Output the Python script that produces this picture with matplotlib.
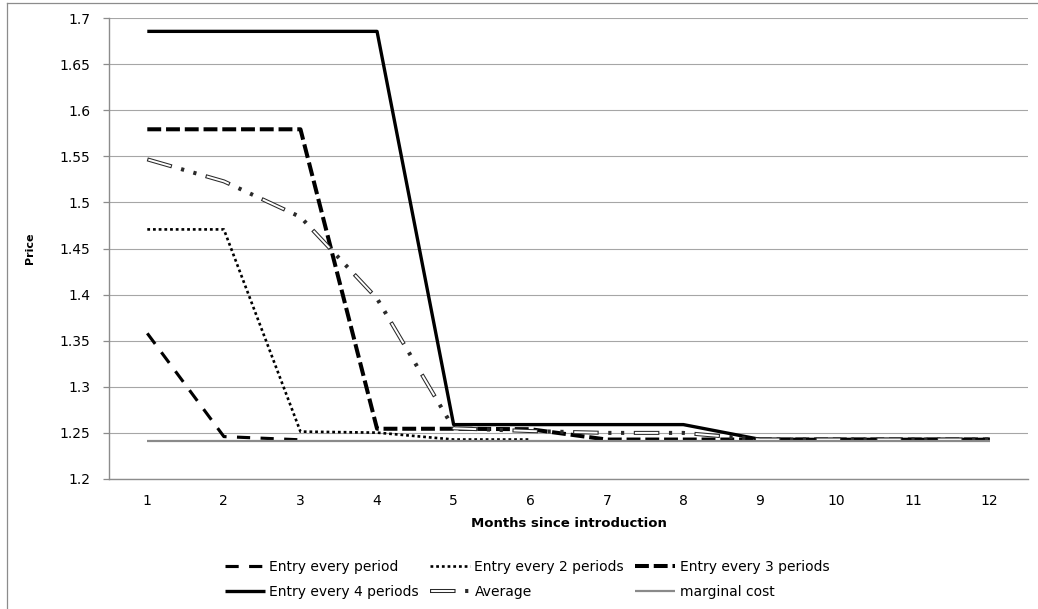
import matplotlib
matplotlib.use("Agg")
import matplotlib.pyplot as plt
from matplotlib.lines import Line2D
from matplotlib.legend_handler import HandlerTuple

plt.rcParams['font.family'] = ['DejaVu Sans']
plt.rcParams['lines.scale_dashes'] = False

# months on the category axis
months = [1, 2, 3, 4, 5, 6, 7, 8, 9, 10, 11, 12]
month_labels = [str(m) for m in months]

# price paths
every_1 = [1.358, 1.246, 1.2425]
every_2 = [1.4707, 1.4707, 1.2514, 1.2503, 1.2428, 1.2428]
every_3 = [1.5793, 1.5793, 1.5793, 1.2545, 1.2545, 1.2540, 1.2428, 1.2428, 1.2428, 1.2428, 1.2428, 1.2428]
every_4 = [1.6855, 1.6855, 1.6855, 1.6855, 1.2590, 1.2590, 1.2590, 1.2590, 1.2430, 1.2430, 1.2430, 1.2430]
average = [1.5467, 1.5228, 1.4842, 1.3957, 1.2550, 1.2520, 1.2500, 1.2500, 1.2428, 1.2428, 1.2428, 1.2428]
marginal_cost = [1.2417] * 12

yticks = [1.2, 1.25, 1.3, 1.35, 1.4, 1.45, 1.5, 1.55, 1.6, 1.65, 1.7]

W, H = 1038, 609
fig = plt.figure(figsize=(W / 100, H / 100), dpi=100)
ax = fig.add_axes([109 / W, 1 - 479 / H, 919 / W, 461 / H])

# outer chart border (cut off on the right and bottom in the original)
fig.add_artist(Line2D([7 / W, 7 / W], [0, 1 - 3 / H], color='#8c8c8c', lw=0.9))
fig.add_artist(Line2D([7 / W, 1], [1 - 3 / H, 1 - 3 / H], color='#8c8c8c', lw=0.9))

h1, = ax.plot(months[:len(every_1)], every_1, color='black', lw=2.25,
              linestyle=(0, (9.5, 7.5)), dash_capstyle='butt')
h2, = ax.plot(months[:len(every_2)], every_2, color='black', lw=1.9,
              linestyle=(0, (2.0, 2.1)), dash_capstyle='butt')
h3, = ax.plot(months, every_3, color='black', lw=2.9,
              linestyle=(0, (10, 3.5)), dash_capstyle='butt')
h4, = ax.plot(months, every_4, color='black', lw=2.4, solid_capstyle='butt')

# average: double line with long dash - dot - dot
pat = (18.4, 6.9, 2.3, 6.9, 2.3, 6.9)
total = sum(pat)
h5a, = ax.plot(months, average, color='#2a2a2a', lw=2.9,
               linestyle=(0, pat), dash_capstyle='butt')
h5b, = ax.plot(months, average, color='white', lw=1.4,
               linestyle=(total - 0.8, (pat[0] - 1.6, total - pat[0] + 1.6)),
               dash_capstyle='butt')
h6, = ax.plot(months, marginal_cost, color='#8a8a8a', lw=1.6, solid_capstyle='butt')

ax.set_xlim(0.5, 12.5)
ax.set_ylim(1.2, 1.7)
ax.set_xticks(months)
ax.set_xticklabels(month_labels)
ax.set_yticks(yticks)
ax.set_yticklabels([f"{v:g}" for v in yticks])
ax.tick_params(axis='x', length=0, pad=11, labelsize=10)
ax.tick_params(axis='y', length=4.3, width=0.9, color='#8c8c8c', pad=9, labelsize=10)

ax.grid(axis='y', color='#a6a6a6', lw=0.8)
ax.set_axisbelow(True)
for side in ['top', 'right']:
    ax.spines[side].set_visible(False)
for side in ['left', 'bottom']:
    ax.spines[side].set_color('#8c8c8c')
    ax.spines[side].set_linewidth(1.0)

ax.set_xlabel("Months since introduction", fontsize=9.5, fontweight='bold')
ax.xaxis.set_label_coords(0.5, -0.083)
ax.set_ylabel("Price", fontsize=8, fontweight='bold')
ax.yaxis.set_label_coords(-0.08, 0.5)

handles = [h1, h4, h2, (h5a, h5b), h3, h6]
labels = ["Entry every period", "Entry every 4 periods", "Entry every 2 periods",
          "Average", "Entry every 3 periods", "marginal cost"]
fig.legend(handles, labels, ncol=3, loc='center', bbox_to_anchor=(527 / W, 1 - 579.5 / H),
           frameon=False, fontsize=10, handlelength=2.9, handletextpad=0.3,
           columnspacing=0.8, labelspacing=0.75,
           handler_map={tuple: HandlerTuple(ndivide=1)})

fig.savefig("out.png", dpi=100)
